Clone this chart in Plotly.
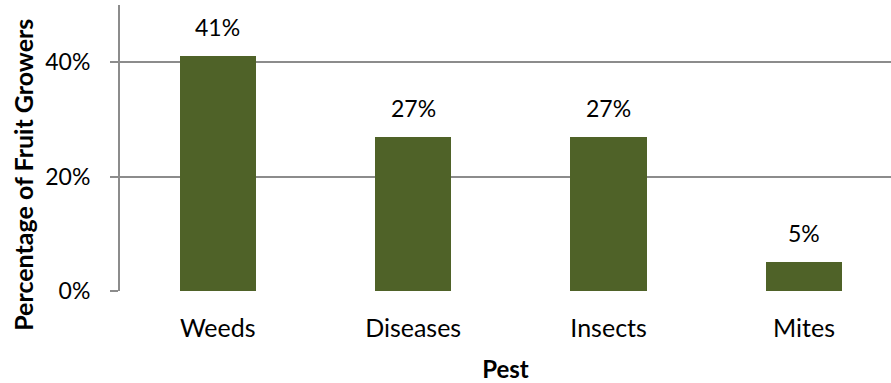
import plotly.graph_objects as go

pests = ["Weeds", "Diseases", "Insects", "Mites"]
share_pct = [41, 27, 27, 5]
y_ticks = [0, 20, 40]
y_tick_labels = ["0%", "20%", "40%"]

BAR = "#4F6228"
GRID = "#8C8C8C"
FONT = "Lato, 'Open Sans', sans-serif"
SIZE = 25
PCT_SIZE = 23

fig = go.Figure(
    go.Bar(
        x=pests,
        y=share_pct,
        width=0.39,
        marker=dict(color=BAR, line=dict(width=0)),
        hoverinfo="skip",
    )
)

# value labels above each bar
for p, v in zip(pests, share_pct):
    fig.add_annotation(
        x=p, y=v, text=f"{v}%", showarrow=False,
        yanchor="bottom", yshift=13,
        font=dict(family=FONT, size=PCT_SIZE, color="#000000"),
    )

# rotated y-axis title
fig.add_annotation(
    xref="paper", yref="paper", x=-0.125, y=0.405,
    text="<b>Percentage of Fruit Growers</b>", textangle=-90,
    showarrow=False, xanchor="center", yanchor="middle",
    font=dict(family=FONT, size=25, color="#000000"),
)

fig.update_layout(
    width=891, height=383,
    margin=dict(l=120, r=0, t=5, b=92),
    plot_bgcolor="white", paper_bgcolor="white",
    showlegend=False,
    bargap=0,
    font=dict(family=FONT, size=SIZE, color="#000000"),
    xaxis=dict(
        range=[-0.5, 3.445],
        showgrid=False,
        showline=False,
        ticks="",
        ticklabelstandoff=20,
        tickfont=dict(size=SIZE),
        title=dict(text="<b>Pest</b>", font=dict(size=24), standoff=22),
        zeroline=False,
    ),
    yaxis=dict(
        range=[0, 50],
        tickvals=y_ticks,
        ticktext=y_tick_labels,
        showgrid=True, gridcolor=GRID, gridwidth=2,
        showline=True, linecolor=GRID, linewidth=2,
        ticks="outside", ticklen=8, tickcolor=GRID, tickwidth=2,
        ticklabelstandoff=15,
        tickfont=dict(size=PCT_SIZE),
        zeroline=False,
    ),
)

fig.write_html("out.html")
